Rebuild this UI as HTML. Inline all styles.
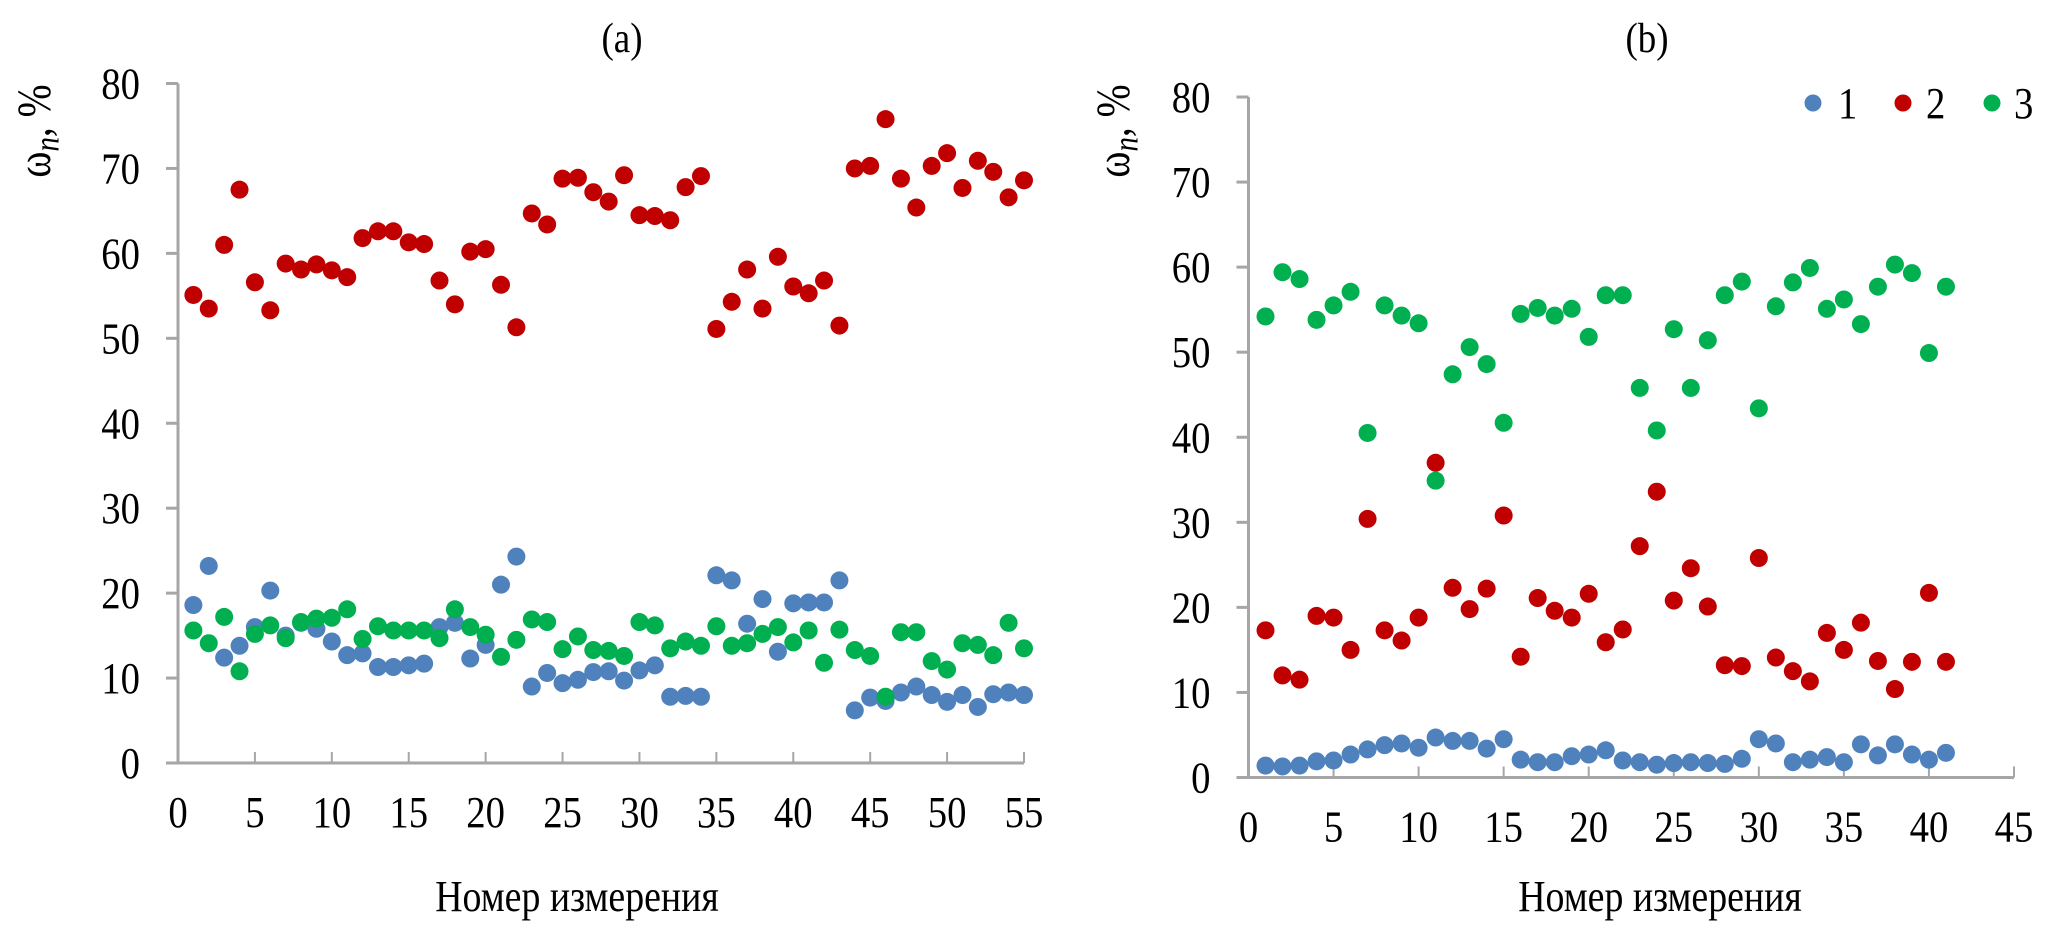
<!DOCTYPE html>
<html><head><meta charset="utf-8"><style>
html,body{margin:0;padding:0;background:#fff;}
svg{display:block;font-family:"Liberation Serif",serif;}
</style></head><body>
<svg id="fig" width="2070" height="936" viewBox="0 0 2070 936" xmlns="http://www.w3.org/2000/svg">
<text transform="translate(622,52) scale(0.88,1)" font-size="42" text-anchor="middle">(a)</text>
<text transform="translate(1647,52) scale(0.88,1)" font-size="42" text-anchor="middle">(b)</text>
<text transform="translate(50,131) rotate(-90) scale(0.9,1.08)" font-size="44" text-anchor="middle">ω<tspan font-style="italic" font-size="32" dy="8">n</tspan><tspan dy="-8">, %</tspan></text>
<text transform="translate(1129,131) rotate(-90) scale(0.9,1.08)" font-size="44" text-anchor="middle">ω<tspan font-style="italic" font-size="32" dy="8">n</tspan><tspan dy="-8">, %</tspan></text>
<text transform="translate(577,911) scale(0.86,1)" font-size="44" text-anchor="middle">Номер измерения</text>
<text transform="translate(1660,911) scale(0.86,1)" font-size="44" text-anchor="middle">Номер измерения</text>
<g>
<circle cx="1813" cy="103" r="8.5" fill="#4f81bd"/>
<text transform="translate(1838,118) scale(0.88,1)" font-size="44">1</text>
<circle cx="1903" cy="103" r="8.5" fill="#c00000"/>
<text transform="translate(1926,118) scale(0.88,1)" font-size="44">2</text>
<circle cx="1992" cy="103" r="8.5" fill="#00b050"/>
<text transform="translate(2014,118) scale(0.88,1)" font-size="44">3</text>
</g>
</svg>
<script>
const yTicks = [0,10,20,30,40,50,60,70,80];
const xTicksA = [0,5,10,15,20,25,30,35,40,45,50,55];
const xTicksB = [0,5,10,15,20,25,30,35,40,45];
const a1 = [18.6,23.2,12.4,13.8,16,20.3,15,16.5,15.8,14.3,12.7,12.9,11.3,11.3,11.5,11.7,16,16.5,12.3,13.9,21,24.3,9,10.6,9.4,9.8,10.7,10.8,9.7,10.9,11.5,7.8,7.9,7.8,22.1,21.5,16.4,19.3,13.1,18.8,18.9,18.9,21.5,6.2,7.7,7.3,8.3,9,8,7.2,8,6.6,8.1,8.3,8];
const a2 = [55.1,53.5,61,67.5,56.6,53.3,58.8,58.1,58.7,58,57.2,61.8,62.6,62.6,61.3,61.1,56.8,54,60.2,60.5,56.3,51.3,64.7,63.4,68.8,68.9,67.2,66.1,69.2,64.5,64.4,63.9,67.8,69.1,51.1,54.3,58.1,53.5,59.6,56.1,55.3,56.8,51.5,70,70.3,75.8,68.8,65.4,70.3,71.8,67.7,70.9,69.6,66.6,68.6];
const a3 = [15.6,14.1,17.2,10.8,15.2,16.2,14.7,16.6,17,17.1,18.1,14.6,16.1,15.6,15.6,15.6,14.7,18.1,16,15.1,12.5,14.5,16.9,16.6,13.4,14.9,13.3,13.2,12.6,16.6,16.2,13.5,14.3,13.8,16.1,13.8,14.1,15.2,16,14.2,15.6,11.8,15.7,13.3,12.6,7.8,15.4,15.4,12,11,14.1,13.9,12.7,16.5,13.5];
const b1 = [1.4,1.3,1.4,1.9,2,2.7,3.3,3.8,4,3.5,4.7,4.3,4.3,3.4,4.5,2.1,1.8,1.8,2.5,2.7,3.2,2,1.8,1.5,1.7,1.8,1.7,1.6,2.2,4.5,4,1.8,2.1,2.4,1.8,3.9,2.6,3.9,2.7,2.1,2.9];
const b2 = [17.3,12,11.5,19,18.8,15,30.4,17.3,16.1,18.8,37,22.3,19.8,22.2,30.8,14.2,21.1,19.6,18.8,21.6,15.9,17.4,27.2,33.6,20.8,24.6,20.1,13.2,13.1,25.8,14.1,12.5,11.3,17,15,18.2,13.7,10.4,13.6,21.7,13.6];
const b3 = [54.2,59.4,58.6,53.8,55.5,57.1,40.5,55.5,54.3,53.4,34.9,47.4,50.6,48.6,41.7,54.5,55.2,54.3,55.1,51.8,56.7,56.7,45.8,40.8,52.7,45.8,51.4,56.7,58.3,43.4,55.4,58.2,59.9,55.1,56.2,53.3,57.7,60.3,59.3,49.9,57.7];
const colors = ['#4f81bd','#c00000','#00b050'];
const NS='http://www.w3.org/2000/svg';
const svg=document.getElementById('fig');
function mk(tag,attrs,parent){const e=document.createElementNS(NS,tag);for(const k in attrs)e.setAttribute(k,attrs[k]);(parent||svg).appendChild(e);return e;}
function chart(id,x0,x1,xmax,y0,y80,xt,series){
  const sx=v=>x0+(x1-x0)*v/xmax, sy=v=>y0+(y80-y0)*v/80;
  const g=mk('g',{});
  
  
  const ya=mk('line',{x1:x0,y1:y80,x2:x0,y2:y0,stroke:'#a6a6a6','stroke-width':3},g);
  
  
  const xa=mk('line',{x1:x0,y1:y0,x2:x1,y2:y0,stroke:'#a6a6a6','stroke-width':3},g);
  
  
  yTicks.forEach(t=>{
    const y=sy(t);
    mk('line',{x1:x0-12,y1:y,x2:x0,y2:y,stroke:'#a6a6a6','stroke-width':3},g);
    const tx=mk('text',{transform:'translate('+(x0-38)+','+(y+15)+') scale(0.88,1)','font-size':44,'text-anchor':'end'},g);
    tx.textContent=t;
    
    
  });
  xt.forEach(t=>{
    const x=sx(t);
    if(t>0) mk('line',{x1:x,y1:y0-11,x2:x,y2:y0,stroke:'#a6a6a6','stroke-width':2},g);
    const tx=mk('text',{transform:'translate('+x+','+(y0+64)+') scale(0.88,1)','font-size':44,'text-anchor':'middle'},g);
    tx.textContent=t;
    
    
  });
  series.forEach((s,si)=>{
    s.forEach((v,i)=>{
      const c=mk('circle',{cx:sx(i+1),cy:sy(v),r:9,fill:colors[si]},g);
      
      
    });
  });
}
chart('a',178,1024,55,763,83.5,xTicksA,[a1,a2,a3]);
chart('b',1248.5,2014,45,777.5,97,xTicksB,[b1,b2,b3]);
</script>
</body></html>
